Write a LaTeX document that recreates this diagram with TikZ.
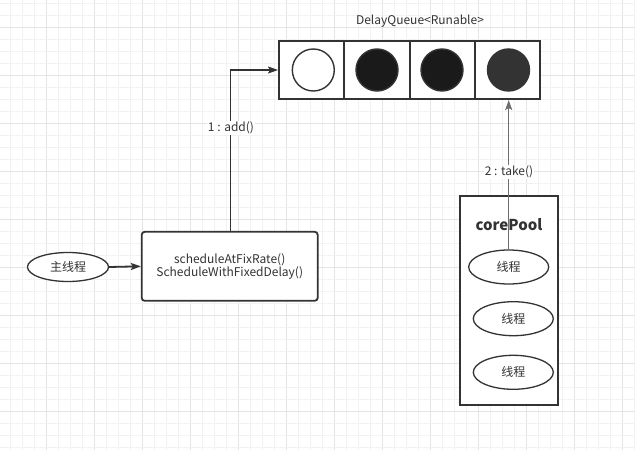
\documentclass[tikz,border=0pt]{standalone}
\usepackage{fontspec}
\setmainfont{Noto Sans CJK SC}
\usetikzlibrary{arrows.meta,shapes.geometric}
\definecolor{gridminor}{HTML}{F2F2F2}
\definecolor{gridmajor}{HTML}{E4E4E4}
\definecolor{ink}{HTML}{333333}
\definecolor{txt}{HTML}{333333}
\definecolor{darkfill}{HTML}{1A1A1A}
\definecolor{midfill}{HTML}{333333}
\definecolor{takegray}{HTML}{6E6E6E}
\tikzset{
  lbl/.style={font=\fontsize{12}{14}\selectfont, text=txt, inner sep=1pt},
  ball/.style={circle, draw=ink, line width=1.4pt, minimum size=42pt, inner sep=0pt},
  thread/.style={ellipse, draw=ink, line width=1.3pt, minimum width=80pt, minimum height=34pt, inner sep=0pt, font=\fontsize{12}{14}\selectfont, text=txt},
  conn/.style={line width=1.8pt, draw=ink, -{Stealth[length=10pt,width=7pt,inset=2pt]}},
}
\begin{document}
\begin{tikzpicture}[x=1pt,y=-1pt]
\useasboundingbox (0,0) rectangle (635,450);
\fill[white] (0,0) rectangle (635,450);
% grid
\foreach \k in {0,...,52}{
  \pgfmathsetmacro{\xx}{10.5+12*\k}
  \pgfmathtruncatemacro{\m}{mod(\k,4)}
  \ifnum\m=3
    \draw[gridmajor, line width=1pt] (\xx,0) -- (\xx,450);
  \else
    \draw[gridminor, line width=1pt] (\xx,0) -- (\xx,450);
  \fi
}
\foreach \k in {0,...,37}{
  \pgfmathsetmacro{\yy}{3.5+12*\k}
  \pgfmathtruncatemacro{\m}{mod(\k,4)}
  \ifnum\m=2
    \draw[gridmajor, line width=1pt] (0,\yy) -- (635,\yy);
  \else
    \draw[gridminor, line width=1pt] (0,\yy) -- (635,\yy);
  \fi
}
% queue
\node[lbl] (title) at (420,21) {DelayQueue<Runable>};
\node[draw=ink, line width=2pt, fill=white, minimum width=261pt, minimum height=58pt, inner sep=0pt] (queue) at (409.5,70) {};
\draw[ink, line width=2pt] (343.5,41) -- (343.5,99);
\draw[ink, line width=2pt] (409.5,41) -- (409.5,99);
\draw[ink, line width=2pt] (475,41) -- (475,99);
\node[ball, fill=white] (b1) at (313.3,70) {};
\node[ball, fill=darkfill] (b2) at (377,70) {};
\node[ball, fill=darkfill] (b3) at (442,70) {};
\node[ball, fill=midfill] (b4) at (508.5,70) {};
% main thread and schedule box
\node[ellipse, draw=ink, line width=1.3pt, fill=white, minimum width=81pt, minimum height=29pt, inner sep=0pt, font=\fontsize{12}{14}\selectfont, text=txt] (main) at (68,267) {主线程};
\node[draw=ink, line width=1.8pt, fill=white, rounded corners=3pt, minimum width=176pt, minimum height=69pt, inner sep=0pt, align=center, font=\fontsize{12}{13.5}\selectfont, text=txt] (sched) at (229.7,266.3) {scheduleAtFixRate()\\ScheduleWithFixedDelay()};
\draw[conn] (main.east) -- (sched.west);
\coordinate (bend) at (230.5,70);
\draw[conn] (sched.north -| bend) -- (bend) -- (queue.west);
\node[lbl, fill=white] (addl) at (231,128) {1 : add()};
% core pool
\node[draw=ink, line width=2pt, fill=white, minimum width=98pt, minimum height=209pt, inner sep=0pt] (pool) at (509.2,300.3) {};
\node[font=\bfseries\fontsize{15}{17}\selectfont, text=ink] (pooll) at (509,225) {corePool};
\node[thread, fill=white] (t1) at (508.7,267) {线程};
\node[thread, fill=white] (t2) at (513.3,318.7) {线程};
\node[thread, fill=white] (t3) at (513.3,372.3) {线程};
\draw[line width=1.3pt, draw=takegray, -{Stealth[length=10pt,width=7pt,inset=2pt]}] (t1.north) -- (t1.north |- queue.south);
\node[lbl, fill=white] (takel) at (509,172) {2 : take()};
\end{tikzpicture}
\end{document}
